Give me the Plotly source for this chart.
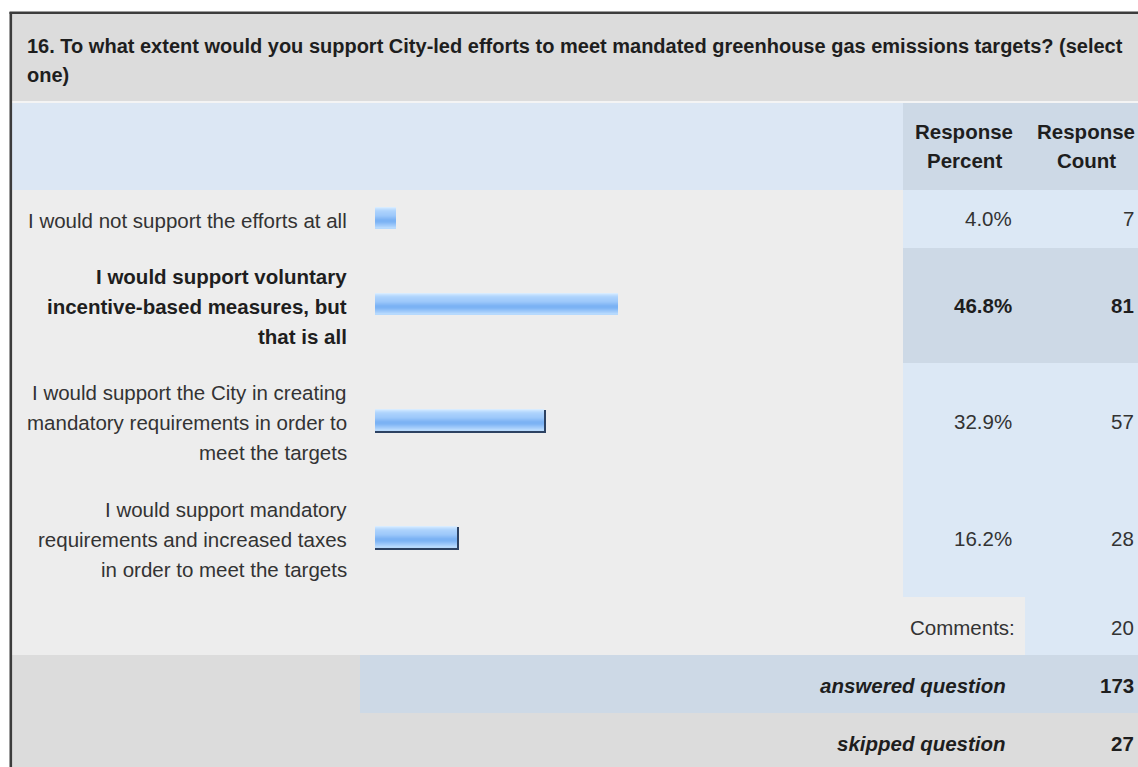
import plotly.graph_objects as go

# ---------------- data ----------------
title_lines = ["16. To what extent would you support City-led efforts to meet mandated greenhouse gas emissions targets? (select", "one)"]
answer_lines = [
    ["I would not support the efforts at all"],
    ["I would support voluntary", "incentive-based measures, but", "that is all"],
    ["I would support the City in creating", "mandatory requirements in order to", "meet the targets"],
    ["I would support mandatory", "requirements and increased taxes", "in order to meet the targets"],
]
response_percent = [4.0, 46.8, 32.9, 16.2]
response_count = [7, 81, 57, 28]
comments_count = 20
answered_question = 173
skipped_question = 27
header_percent = ["Response", "Percent"]
header_count = ["Response", "Count"]

# ---------------- layout / style ----------------
W, H = 1138, 767
FONT = "Liberation Sans, Arial, sans-serif"
TXT = "#333333"
TTL = "#1e1e1e"
FS = 20.5
highlight = [False, True, False, False]
bar_edge = [False, False, True, True]

LEFT = 12
TITLE_TOP, TITLE_BOT = 14, 101
HEAD_TOP, HEAD_BOT = 103, 190
row_tops = [190, 248, 363, 480]
row_bots = [248, 363, 480, 597]
COM_TOP, COM_BOT = 597, 655
ANS_TOP, ANS_BOT = 655, 713
SKIP_TOP, SKIP_BOT = 713, 790
LABEL_R = 347
BAR_L = 375
PX_PER_PCT = 5.19
PCT_L, PCT_R = 903, 1025
CNT_L, CNT_R = 1025, 1150
PCT_TXT_R = 1012
CNT_TXT_R = 1134
LINE_SP = 30


def px(x):
    return x / W


def py(y):
    return 1 - y / H


shapes = []


def rect(x0, y0, x1, y1, color):
    shapes.append(dict(type="rect", xref="paper", yref="paper",
                       x0=px(x0), x1=px(x1), y0=py(y1), y1=py(y0),
                       fillcolor=color, line=dict(width=0), layer="below"))


annotations = []


def text(x, y, s, size=FS, anchor="right", bold=False, italic=False, color=TXT):
    if italic:
        s = "<i>" + s + "</i>"
    if bold:
        s = "<b>" + s + "</b>"
    annotations.append(dict(x=px(x), y=py(y), xref="paper", yref="paper", text=s,
                            showarrow=False, xanchor=anchor, yanchor="middle",
                            borderpad=0, borderwidth=0,
                            font=dict(family=FONT, size=size, color=color)))


# backgrounds
rect(LEFT, TITLE_TOP, W + 20, TITLE_BOT, "#dcdcdc")
rect(LEFT, TITLE_BOT, W + 20, HEAD_TOP, "#f4f4f4")
rect(LEFT, HEAD_TOP, W + 20, HEAD_BOT, "#dce7f4")
rect(PCT_L, HEAD_TOP, W + 20, HEAD_BOT, "#cdd9e6")
rect(LEFT, HEAD_BOT, W + 20, COM_BOT, "#ededed")
for i in range(len(response_percent)):
    col = "#cdd9e6" if highlight[i] else "#dce8f5"
    rect(PCT_L, row_tops[i], W + 20, row_bots[i], col)
rect(CNT_L, COM_TOP, W + 20, COM_BOT, "#dce8f5")
rect(LEFT, ANS_TOP, W + 20, SKIP_BOT, "#dcdcdc")
rect(360, ANS_TOP, W + 20, ANS_BOT, "#cdd9e6")
# outer border
shapes.append(dict(type="line", xref="paper", yref="paper", x0=px(10.8), x1=px(10.8),
                   y0=py(12), y1=py(H + 5), line=dict(color="#3c3c3c", width=2.6)))
shapes.append(dict(type="line", xref="paper", yref="paper", x0=px(9.5), x1=px(W + 5),
                   y0=py(12.8), y1=py(12.8), line=dict(color="#3c3c3c", width=2.6)))

# title
text(27, 46, title_lines[0], size=20, anchor="left", bold=True, color=TTL)
text(27, 75, title_lines[1], size=20, anchor="left", bold=True, color=TTL)

# header
hc = (HEAD_TOP + HEAD_BOT) / 2
for k, s in enumerate(header_percent):
    text((PCT_L + PCT_R) / 2, hc - 14.5 + 29 * k, s, anchor="center", bold=True, color=TTL)
for k, s in enumerate(header_count):
    text(1086, hc - 14.5 + 29 * k, s, anchor="center", bold=True, color=TTL)

# rows
bar_centers = []
for i, lines in enumerate(answer_lines):
    c = (row_tops[i] + row_bots[i]) / 2
    n = len(lines)
    col = TTL if highlight[i] else TXT
    for k, s in enumerate(lines):
        text(LABEL_R, c + 1 + (k - (n - 1) / 2) * LINE_SP, s, bold=highlight[i], color=col)
    text(PCT_TXT_R, c, f"{response_percent[i]:.1f}%", bold=highlight[i], color=col)
    text(CNT_TXT_R, c, str(response_count[i]), bold=highlight[i], color=col)
    bar_centers.append(c - 1.5)

text(PCT_TXT_R + 3, (COM_TOP + COM_BOT) / 2 + 1, "Comments:")
text(CNT_TXT_R, (COM_TOP + COM_BOT) / 2 + 1, str(comments_count))
text(1006, (ANS_TOP + ANS_BOT) / 2 + 1, "answered question", bold=True, italic=True, color=TTL)
text(CNT_TXT_R, (ANS_TOP + ANS_BOT) / 2 + 1, str(answered_question), bold=True, color=TTL)
text(1006, (SKIP_TOP + 773) / 2, "skipped question", bold=True, italic=True, color=TTL)
text(CNT_TXT_R, (SKIP_TOP + 773) / 2, str(skipped_question), bold=True, color=TTL)

# bars (horizontal, vertical gradient made of 1-px bands)
BAR_H = 21
EDGE = 2
band_colors = ["#d8ecff", "#c8e3ff", "#bcdcfe", "#b2d6fd", "#acd2fc", "#a8cffc",
               "#a4cdfb", "#a1cbfb", "#9dc8fa", "#96c4f9", "#8ebef7", "#86b9f6",
               "#7eb4f4", "#7bb2f4", "#7cb3f4", "#82b7f5", "#8cbdf7", "#96c4f9",
               "#a0cafa", "#aad1fc", "#b6d9fd"]

fig = go.Figure()
edge_x = [v for v, e in zip(response_percent, bar_edge) if e]
edge_y = [c for c, e in zip(bar_centers, bar_edge) if e]
fig.add_trace(go.Bar(orientation="h", x=edge_x, y=edge_y,
                     width=[BAR_H + EDGE] * len(edge_x), offset=[-BAR_H / 2] * len(edge_x),
                     marker=dict(color="#2d4262", line=dict(width=0)),
                     hoverinfo="skip", showlegend=False))
grad_x = [v - (EDGE / PX_PER_PCT if e else 0) for v, e in zip(response_percent, bar_edge)]
for k, colr in enumerate(band_colors):
    fig.add_trace(go.Bar(orientation="h", x=grad_x, y=bar_centers,
                         width=[1.05] * len(grad_x),
                         offset=[k - BAR_H / 2] * len(grad_x),
                         marker=dict(color=colr, line=dict(width=0)),
                         hovertemplate="%{x:.1f}%<extra></extra>", showlegend=False))

fig.update_layout(
    width=W, height=H,
    margin=dict(l=0, r=0, t=0, b=0),
    paper_bgcolor="white", plot_bgcolor="rgba(0,0,0,0)",
    barmode="overlay", bargap=0,
    xaxis=dict(domain=[px(BAR_L), px(BAR_L + 100 * PX_PER_PCT)], range=[0, 100],
               visible=False, fixedrange=True),
    yaxis=dict(domain=[0, 1], range=[H, 0], visible=False, fixedrange=True),
    shapes=shapes,
    annotations=annotations,
    showlegend=False,
)

fig.write_html("out.html", config={"displayModeBar": False},
               post_script="document.body.style.margin='0';document.body.style.overflow='hidden';")
